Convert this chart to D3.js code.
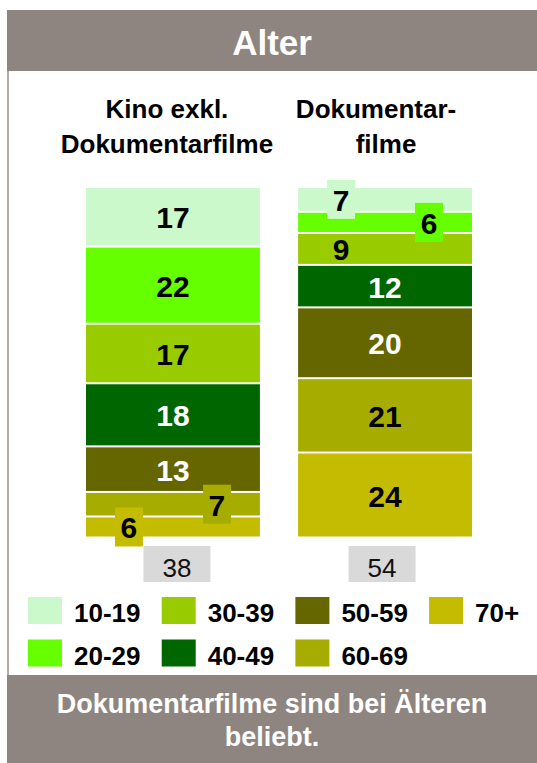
<!DOCTYPE html>
<meta charset="utf-8">
<title>Alter</title>
<style>
    body { margin: 0; background: #fff; }
    text { font-family: "Liberation Sans", Arial, sans-serif; }
</style>
<body>
<script src="https://cdn.jsdelivr.net/npm/d3@7"></script>
<div id="chart"></div>
<script>
    var width = 537;
    var height = 763;

    // data (percent per age group)
    var groups = ["10-19", "20-29", "30-39", "40-49", "50-59", "60-69", "70+"];
    var categories = ["Kino exkl. Dokumentarfilme", "Dokumentarfilme"];
    var titleLines = [["Kino exkl.", "Dokumentarfilme"], ["Dokumentar-", "filme"]];
    var kino = [17, 22, 17, 18, 13, 7, 6];
    var doku = [7, 6, 9, 12, 20, 21, 24];
    var totals = [38, 54];
    var colors = ["#ccf9cc", "#66ff00", "#99cc00", "#006600", "#666600", "#a6ad00", "#c4bc00"];
    var whiteText = ["40-49", "50-59"];

    var table = categories.map(function(c, i) {
        var row = {cat: c};
        var vals = i === 0 ? kino : doku;
        groups.forEach(function(g, j) { row[g] = vals[j]; });
        return row;
    });

    var color = d3.scaleOrdinal().domain(groups).range(colors);

    var x = d3.scaleBand()
        .domain(categories)
        .range([86, 472])
        .paddingInner(0.18);

    var y = d3.scaleLinear()
        .domain([0, 1])
        .range([188, 538.5]);

    var stack = d3.stack()
        .keys(groups)
        .offset(d3.stackOffsetExpand);
    var series = stack(table);

    var svg = d3.select("#chart").append("svg")
        .attr("width", width)
        .attr("height", height);

    // frame
    svg.append("rect")
        .attr("x", 7).attr("y", 70)
        .attr("width", 2).attr("height", 606)
        .style("fill", "#b3aca8");

    svg.append("rect")
        .attr("x", 7).attr("y", 10)
        .attr("width", width - 7).attr("height", 61)
        .style("fill", "#8e8580");

    svg.append("text")
        .attr("x", 272).attr("y", 55)
        .style("text-anchor", "middle")
        .style("font-size", "35px")
        .style("font-weight", "bold")
        .style("fill", "#fff")
        .text("Alter");

    // column titles
    var offsets = [[-6, -6], [-9, 1]];
    titleLines.forEach(function(lines, i) {
        var cx = x(categories[i]) + x.bandwidth() / 2;
        lines.forEach(function(l, k) {
            svg.append("text")
                .attr("x", cx + offsets[i][k])
                .attr("y", 118 + k * 35)
                .style("text-anchor", "middle")
                .style("font-size", "26px")
                .style("font-weight", "bold")
                .style("fill", "#000")
                .text(l);
        });
    });

    // stacked bars
    var layer = svg.append("g").selectAll("g")
        .data(series)
        .enter().append("g")
        .style("fill", function(d) { return color(d.key); });

    layer.selectAll("rect")
        .data(function(d) { return d; })
        .enter().append("rect")
        .attr("x", function(d) { return x(d.data.cat); })
        .attr("y", function(d) { return y(d[0]); })
        .attr("width", x.bandwidth())
        .attr("height", function(d) { return y(d[1]) - y(d[0]) - 2; });

    // labels; small segments get shifted to the side with a box
    var labels = [];
    series.forEach(function(s, i) {
        s.forEach(function(d) {
            var v = d.data[s.key];
            var cx = x(d.data.cat) + x.bandwidth() / 2;
            var cy = (y(d[0]) + y(d[1]) - 2) / 2;
            var small = v < 10;
            labels.push({
                key: s.key, v: v,
                x: small ? cx + (i % 2 ? 44 : -44) : cx,
                y: cy,
                box: v < 8
            });
        });
    });

    var lab = svg.append("g").selectAll("g")
        .data(labels)
        .enter().append("g");

    lab.filter(function(d) { return d.box; })
        .append("rect")
        .attr("x", function(d) { return d.x - 14; })
        .attr("y", function(d) { return d.y - 19.5; })
        .attr("width", 28)
        .attr("height", 39)
        .style("fill", function(d) { return color(d.key); });

    lab.append("text")
        .attr("x", function(d) { return d.x; })
        .attr("y", function(d) { return d.y + 11.5; })
        .style("text-anchor", "middle")
        .style("font-size", "30px")
        .style("font-weight", "bold")
        .style("fill", function(d) { return whiteText.indexOf(d.key) >= 0 ? "#fff" : "#000"; })
        .text(function(d) { return d.v; });

    // totals
    var tot = svg.append("g").selectAll("g")
        .data(totals)
        .enter().append("g");
    var totShift = [4, -3];

    tot.append("rect")
        .attr("x", function(d, i) { return x(categories[i]) + x.bandwidth() / 2 + totShift[i] - 33.5; })
        .attr("y", 546)
        .attr("width", 67)
        .attr("height", 36)
        .style("fill", "#d9d9d9");

    tot.append("text")
        .attr("x", function(d, i) { return x(categories[i]) + x.bandwidth() / 2 + totShift[i]; })
        .attr("y", 577)
        .style("text-anchor", "middle")
        .style("font-size", "26px")
        .style("fill", "#111")
        .text(function(d) { return d; });

    // legend, column-wise two rows
    var legend = svg.append("g").selectAll("g")
        .data(groups)
        .enter().append("g")
        .attr("transform", function(d, i) {
            return "translate(" + (28 + Math.floor(i / 2) * 133.7) + "," + (597 + (i % 2) * 42.5) + ")";
        });

    legend.append("rect")
        .attr("width", 34)
        .attr("height", 27)
        .style("fill", function(d) { return color(d); });

    legend.append("text")
        .attr("x", 46)
        .attr("y", 25)
        .style("font-size", "26px")
        .style("font-weight", "bold")
        .style("fill", "#000")
        .text(function(d) { return d; });

    // footer
    svg.append("rect")
        .attr("x", 7).attr("y", 675)
        .attr("width", width - 7).attr("height", height - 675)
        .style("fill", "#8e8580");

    var foot = ["Dokumentarfilme sind bei Älteren", "beliebt."];
    svg.selectAll(".foot")
        .data(foot)
        .enter().append("text")
        .attr("class", "foot")
        .attr("x", 272)
        .attr("y", function(d, i) { return 713 + i * 33; })
        .style("text-anchor", "middle")
        .style("font-size", "27px")
        .style("font-weight", "bold")
        .style("fill", "#fff")
        .text(function(d) { return d; });
</script>
</body>
